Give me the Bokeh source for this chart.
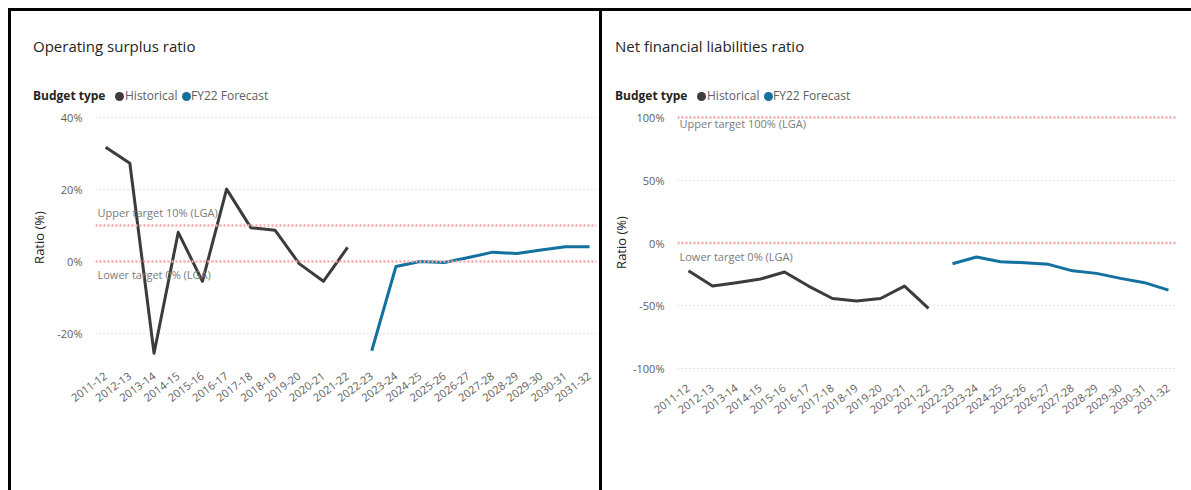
from bokeh.plotting import figure
from bokeh.layouts import row, column
from bokeh.models import Range1d, FixedTicker, PrintfTickFormatter, Label, Span, Div, Spacer
from bokeh.embed import file_html
from bokeh.resources import INLINE

# ---------------- data ----------------
years = ["2011-12", "2012-13", "2013-14", "2014-15", "2015-16", "2016-17", "2017-18",
         "2018-19", "2019-20", "2020-21", "2021-22", "2022-23", "2023-24", "2024-25",
         "2025-26", "2026-27", "2027-28", "2028-29", "2029-30", "2030-31", "2031-32"]
hist_years = years[:11]
fcst_years = years[11:]

osr_hist = [31.7, 27.3, -25.5, 8.1, -5.5, 20.1, 9.4, 8.7, -0.6, -5.5, 3.9]
osr_fcst = [-24.8, -1.4, 0.0, -0.3, 1.1, 2.6, 2.2, 3.2, 4.1, 4.1]
osr_ticks = [-20, 0, 20, 40]
osr_targets = [10, 0]

nfl_hist = [-22.1, -34.3, -31.6, -28.7, -23.1, -34.3, -44.2, -46.3, -44.2, -34.3, -52.1]
nfl_fcst = [-16.5, -11.2, -14.9, -15.7, -17.0, -22.2, -24.2, -28.2, -31.6, -37.5]
nfl_ticks = [-100, -50, 0, 50, 100]
nfl_targets = [100, 0]

legend_title = "Budget type"
series_names = ["Historical", "FY22 Forecast"]

FONT = "Open Sans"
HIST_COLOR = "#3c3c3c"
FCST_COLOR = "#12719f"
PINK = "#f2aaaa"


def make_header(title, width, height, x0, styles):
    c1, c2 = HIST_COLOR, FCST_COLOR
    html = f"""
<div style="position:relative;width:{width}px;height:{height}px;font-family:'{FONT}',sans-serif;">
  <div style="position:absolute;left:{x0}px;top:25px;font-size:15px;line-height:20px;color:#252423;white-space:nowrap;">{title}</div>
  <div style="position:absolute;left:{x0}px;top:76px;font-size:12px;line-height:18px;color:#252423;font-weight:bold;white-space:nowrap;">{legend_title}</div>
  <div style="position:absolute;left:{x0 + 82}px;top:80.5px;width:9px;height:9px;border-radius:50%;background:{c1};"></div>
  <div style="position:absolute;left:{x0 + 92}px;top:76px;font-size:12px;line-height:18px;color:#605e5c;white-space:nowrap;">{series_names[0]}</div>
  <div style="position:absolute;left:{x0 + 149}px;top:80.5px;width:9px;height:9px;border-radius:50%;background:{c2};"></div>
  <div style="position:absolute;left:{x0 + 158}px;top:76px;font-size:12px;line-height:18px;color:#605e5c;white-space:nowrap;">{series_names[1]}</div>
</div>"""
    return Div(text=html, width=width, height=height, margin=0, styles=styles)


def make_panel(hist, fcst, ticks, targets, target_texts, target_offsets,
               y_start, y_end, x_start, x_end, width, height, borders,
               axis_standoff, x_label_standoff, styles):
    p = figure(width=width, height=height, output_backend="svg", toolbar_location=None,
               x_range=Range1d(x_start, x_end), y_range=Range1d(y_start, y_end),
               min_border_left=borders[0], min_border_right=borders[1],
               min_border_top=borders[2], min_border_bottom=borders[3], margin=0)
    p.styles = styles
    p.outline_line_color = None
    p.background_fill_color = "white"
    p.border_fill_color = "white"

    # x axis
    xi_hist = [years.index(y) for y in hist_years]
    xi_fcst = [years.index(y) for y in fcst_years]
    p.xaxis.ticker = FixedTicker(ticks=list(range(len(years))))
    p.xaxis.major_label_overrides = {i: y for i, y in enumerate(years)}
    p.xaxis.major_label_orientation = 0.64
    p.xaxis.axis_line_color = None
    p.xaxis.major_tick_line_color = None
    p.xaxis.minor_tick_line_color = None
    p.xaxis.major_label_text_font = FONT
    p.xaxis.major_label_text_font_size = "11px"
    p.xaxis.major_label_text_color = "#605e5c"
    p.xaxis.major_label_standoff = x_label_standoff

    # y axis
    p.yaxis.ticker = FixedTicker(ticks=ticks)
    p.yaxis.formatter = PrintfTickFormatter(format="%d%%")
    p.yaxis.axis_line_color = None
    p.yaxis.major_tick_line_color = None
    p.yaxis.minor_tick_line_color = None
    p.yaxis.major_label_text_font = FONT
    p.yaxis.major_label_text_font_size = "11px"
    p.yaxis.major_label_text_color = "#605e5c"
    p.yaxis.major_label_standoff = 7
    p.yaxis.axis_label = "Ratio (%)"
    p.yaxis.axis_label_text_font = FONT
    p.yaxis.axis_label_text_font_size = "13px"
    p.yaxis.axis_label_text_font_style = "normal"
    p.yaxis.axis_label_text_color = "#252423"
    p.yaxis.axis_label_standoff = axis_standoff

    p.xgrid.visible = False
    p.ygrid.grid_line_color = "#c8c8c8"
    p.ygrid.grid_line_dash = "1 3"
    p.ygrid.grid_line_width = 1

    # target lines
    for t, txt, (base, off) in zip(targets, target_texts, target_offsets):
        p.add_layout(Span(location=t, dimension="width", line_color=PINK,
                          line_width=2.5, line_dash="2 2"))
        p.add_layout(Label(x=2, x_units="screen", y=t, y_units="data", text=txt,
                           text_font=FONT, text_font_size="11px",
                           text_color="#7a7a7a", text_baseline=base, y_offset=off))

    # data lines
    p.line(xi_hist, hist, line_color=HIST_COLOR, line_width=3, line_join="round")
    p.line(xi_fcst, fcst, line_color=FCST_COLOR, line_width=3, line_join="round")
    return p


HEAD_H = 96
FIG_H = 386
BLK = "3px solid black"

left_head = make_header("Operating surplus ratio", 594, HEAD_H, 22,
                        {"border-left": BLK, "border-top": BLK, "border-right": BLK})
left = make_panel(osr_hist, osr_fcst, osr_ticks, osr_targets,
                  ["Upper target 10% (LGA)", "Lower target 0% (LGA)"],
                  [("bottom", 5), ("top", -6)],
                  y_start=-27.5, y_end=40.83, x_start=-0.42, x_end=20.29,
                  width=594, height=FIG_H, borders=(84, 9, 10, 130),
                  axis_standoff=6, x_label_standoff=8,
                  styles={"border-left": BLK, "border-right": BLK})

right_head = make_header("Net financial liabilities ratio", 589, HEAD_H, 13,
                         {"border-top": BLK})
right = make_panel(nfl_hist, nfl_fcst, nfl_ticks, nfl_targets,
                   ["Upper target 100% (LGA)", "Lower target 0% (LGA)"],
                   [("top", 2), ("top", -6)],
                   y_start=-101.6, y_end=102.4, x_start=-0.458, x_end=20.375,
                   width=589, height=FIG_H, borders=(75, 14, 10, 120),
                   axis_standoff=0, x_label_standoff=10,
                   styles={})

layout = column(Spacer(height=8, width=1191, margin=0),
                row(Spacer(width=8, height=482, margin=0),
                    column(left_head, left, spacing=0, margin=0),
                    column(right_head, right, spacing=0, margin=0),
                    spacing=0, margin=0),
                spacing=0, margin=0)
open("out.html", "w").write(file_html(layout, INLINE))
